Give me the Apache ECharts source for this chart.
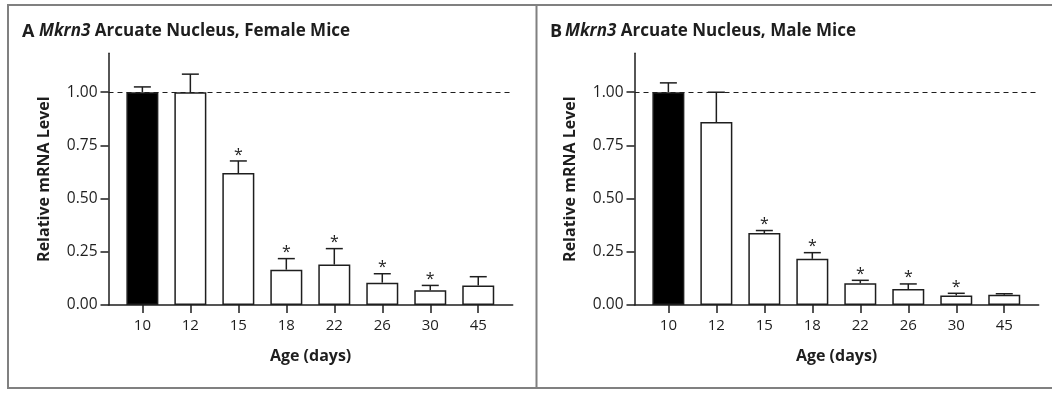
<!DOCTYPE html>
<html>
<head>
<meta charset="utf-8">
<script src="https://cdn.jsdelivr.net/npm/echarts@6/dist/echarts.min.js"></script>
<style>
  html, body { margin: 0; padding: 0; background: #fff; }
  #chart { width: 1052px; height: 393px; }
</style>
</head>
<body>
<div id="chart"></div>
<script>
// data
const ages = ["10", "12", "15", "18", "22", "26", "30", "45"];
const femaleMean = [1.00, 1.00, 0.62, 0.166, 0.19, 0.105, 0.069, 0.092];
const femaleSem = [0.025, 0.085, 0.057, 0.052, 0.075, 0.042, 0.023, 0.041];
const maleMean = [1.00, 0.86, 0.338, 0.217, 0.102, 0.075, 0.045, 0.048];
const maleSem = [0.044, 0.14, 0.012, 0.029, 0.014, 0.024, 0.010, 0.005];
const femaleStar = [0, 0, 1, 1, 1, 1, 1, 0];
const maleStar = [0, 0, 1, 1, 1, 1, 1, 0];
const yTicks = [0, 0.25, 0.5, 0.75, 1.0];

const FONT = "'Open Sans', sans-serif";
const INK = "#1e1e1e";

const chart = echarts.init(document.getElementById("chart"));

// upward error bar + asterisk
function errorBar(params, api) {
  const i = api.value(0);
  const m = api.value(1);
  const top = api.value(2);
  const star = api.value(3);
  const base = api.coord([i, m]);
  const hi = api.coord([i, top]);
  const hw = 8.5;
  const st = { stroke: INK, lineWidth: 1.5 };
  const children = [
    { type: "line", shape: { x1: base[0], y1: base[1], x2: hi[0], y2: hi[1] }, style: st },
    { type: "line", shape: { x1: hi[0] - hw, y1: hi[1], x2: hi[0] + hw, y2: hi[1] }, style: st }
  ];
  if (star) {
    children.push({
      type: "text",
      style: {
        text: "*", x: hi[0], y: hi[1] - 6,
        align: "center", verticalAlign: "middle",
        font: "16px " + FONT, fill: INK
      }
    });
  }
  return { type: "group", children };
}

function panelSeries(idx, mean, sem, star) {
  return [
    {
      type: "bar",
      xAxisIndex: idx,
      yAxisIndex: idx,
      barWidth: 32,
      data: mean.map((v, i) => [i, v]),
      itemStyle: {
        color: (p) => (p.dataIndex === 0 ? "#000" : "#fff"),
        borderColor: INK,
        borderWidth: 1.5
      },
      silent: true,
      markLine: {
        silent: true,
        symbol: "none",
        label: { show: false },
        lineStyle: { color: INK, type: [5, 4], width: 1.2 },
        data: [{ yAxis: 1 }]
      }
    },
    {
      type: "custom",
      xAxisIndex: idx,
      yAxisIndex: idx,
      renderItem: errorBar,
      z: 3,
      data: mean.map((v, i) => [i, v, v + sem[i], star[i]])
    }
  ];
}

function xAxisCfg(idx) {
  return {
    type: "value",
    gridIndex: idx,
    min: -0.706,
    max: 7.718,
    name: "Age (days)",
    nameLocation: "middle",
    nameGap: 43,
    nameTextStyle: { fontFamily: FONT, fontWeight: 700, fontSize: 16, color: INK, verticalAlign: "top" },
    axisLine: { onZero: false, lineStyle: { color: INK, width: 1.5 } },
    axisTick: { customValues: ages.map((a, i) => i), length: 8, lineStyle: { color: INK, width: 1.5 } },
    axisLabel: {
      customValues: ages.map((a, i) => i),
      formatter: (v) => ages[Math.round(v)],
      margin: 13,
      fontFamily: FONT,
      fontSize: 15,
      color: INK
    },
    splitLine: { show: false }
  };
}

function yAxisCfg(idx) {
  return {
    type: "value",
    gridIndex: idx,
    min: 0,
    max: 1.183,
    name: "Relative mRNA Level",
    nameLocation: "middle",
    nameGap: 56,
    nameRotate: 90,
    nameTextStyle: { fontFamily: FONT, fontWeight: 700, fontSize: 16, color: INK },
    axisLine: { show: true, onZero: false, lineStyle: { color: INK, width: 1.5 } },
    axisTick: { show: true, customValues: yTicks, length: 8, lineStyle: { color: INK, width: 1.5 } },
    axisLabel: {
      customValues: yTicks,
      formatter: (v) => v.toFixed(2),
      margin: 11,
      fontFamily: FONT,
      fontSize: 15.5,
      color: INK
    },
    splitLine: { show: false }
  };
}

const titleRich = { i: { fontStyle: "italic", fontFamily: FONT, fontWeight: 700, fontSize: 17, color: INK } };

const option = {
  animation: false,
  backgroundColor: "#fff",
  title: [
    { text: "A", left: 22, top: 23, padding: 0, textStyle: { fontFamily: FONT, fontWeight: 700, fontSize: 18, color: INK } },
    { text: "{i|Mkrn3} Arcuate Nucleus, Female Mice", left: 39, top: 23, padding: 0,
      textStyle: { fontFamily: FONT, fontWeight: 700, fontSize: 17, color: INK, rich: titleRich } },
    { text: "B", left: 550, top: 23, padding: 0, textStyle: { fontFamily: FONT, fontWeight: 700, fontSize: 18, color: INK } },
    { text: "{i|Mkrn3} Arcuate Nucleus, Male Mice", left: 565, top: 23, padding: 0,
      textStyle: { fontFamily: FONT, fontWeight: 700, fontSize: 17, color: INK, rich: titleRich } }
  ],
  grid: [
    { left: 108.5, top: 53.3, width: 404.2, height: 251.7 },
    { left: 634.5, top: 53.3, width: 404.2, height: 251.7 }
  ],
  xAxis: [xAxisCfg(0), xAxisCfg(1)],
  yAxis: [yAxisCfg(0), yAxisCfg(1)],
  series: [
    ...panelSeries(0, femaleMean, femaleSem, femaleStar),
    ...panelSeries(1, maleMean, maleSem, maleStar)
  ],
  graphic: [
    { type: "line", silent: true, shape: { x1: 8, y1: 5, x2: 1052, y2: 5 }, style: { stroke: "#808080", lineWidth: 2 } },
    { type: "line", silent: true, shape: { x1: 8, y1: 388, x2: 1052, y2: 388 }, style: { stroke: "#808080", lineWidth: 2 } },
    { type: "line", silent: true, shape: { x1: 8, y1: 4, x2: 8, y2: 389 }, style: { stroke: "#808080", lineWidth: 2 } },
    { type: "line", silent: true, shape: { x1: 536.5, y1: 4, x2: 536.5, y2: 389 }, style: { stroke: "#808080", lineWidth: 2 } }
  ]
};

chart.setOption(option);
</script>
</body>
</html>
